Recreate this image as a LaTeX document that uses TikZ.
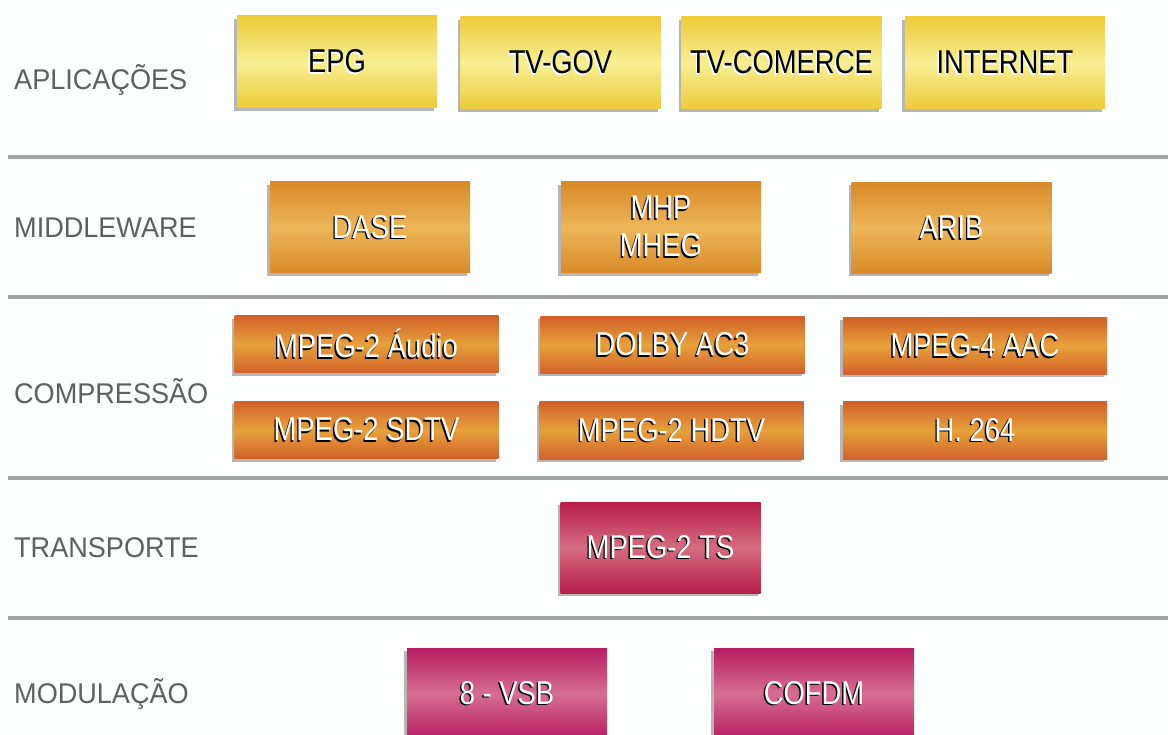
\documentclass[tikz,border=0pt]{standalone}
\usepackage{fontspec}
\setmainfont{Liberation Sans}
\newfontfamily\boxfont[FakeStretch=0.83]{Liberation Sans}
\newfontfamily\labfont[FakeStretch=0.95]{Liberation Sans}
\usetikzlibrary{shadows}
\definecolor{bgc}{HTML}{FDFEFE}
\definecolor{linec}{HTML}{A3A3A3}
\definecolor{labc}{HTML}{5F5F5F}
\definecolor{yelA}{HTML}{EECB38}
\definecolor{yelB}{HTML}{F6EF93}
\definecolor{oraA}{HTML}{D98A28}
\definecolor{oraB}{HTML}{ECB658}
\definecolor{cmpA}{HTML}{D3602A}
\definecolor{cmpB}{HTML}{E6A23A}
\definecolor{redA}{HTML}{B81E48}
\definecolor{redB}{HTML}{D56C80}
\definecolor{magA}{HTML}{B61D62}
\definecolor{magB}{HTML}{D66E92}
\newcommand{\wtxt}[1]{\leavevmode\rlap{\kern-1.4pt\raisebox{-1.4pt}{\color{black}#1}}{\color{white}#1}}
\newcommand{\btxt}[1]{\leavevmode\rlap{\kern-1.4pt\raisebox{-1.4pt}{\color{white}#1}}{\color{black}#1}}
\tikzset{
  layerbox/.style={rectangle, inner sep=0pt, font={\boxfont\fontsize{33}{38}\selectfont},
    drop shadow={shadow xshift=-3pt, shadow yshift=-3pt, opacity=0.4, fill=black!70}},
  yelbox/.style={layerbox, minimum width=200pt, minimum height=92pt, top color=yelA, bottom color=yelA, middle color=yelB},
  orabox/.style={layerbox, minimum width=200pt, minimum height=91pt, top color=oraA, bottom color=oraA, middle color=oraB},
  cmpbox/.style={layerbox, minimum width=264pt, minimum height=57pt, top color=cmpA, bottom color=cmpA, middle color=cmpB},
  redbox/.style={layerbox, minimum width=200pt, minimum height=91pt, top color=redA, bottom color=redA, middle color=redB},
  magbox/.style={layerbox, minimum width=200pt, minimum height=91pt, top color=magA, bottom color=magA, middle color=magB},
  layerlabel/.style={anchor=west, inner sep=0pt, text=labc, font={\labfont\fontsize{28.5}{30}\selectfont}},
  sepline/.style={draw=linec, line width=4pt}
}
\begin{document}
\begin{tikzpicture}[x=1pt, y=-1pt]
\clip (0,0) rectangle (1168,735);
\useasboundingbox (0,0) rectangle (1168,735);
\fill[bgc] (0,0) rectangle (1168,735);

% separator lines
\coordinate (l1a) at (8,157); \coordinate (l1b) at (1168,157);
\coordinate (l2a) at (8,297); \coordinate (l2b) at (1168,297);
\coordinate (l3a) at (8,478); \coordinate (l3b) at (1168,478);
\coordinate (l4a) at (8,618); \coordinate (l4b) at (1168,618);
\draw[sepline] (l1a) -- (l1b);
\draw[sepline] (l2a) -- (l2b);
\draw[sepline] (l3a) -- (l3b);
\draw[sepline] (l4a) -- (l4b);

% layer labels
\node[layerlabel] (lapl) at (14,80) {APLICAÇÕES};
\node[layerlabel] (lmid) at (14,228) {MIDDLEWARE};
\node[layerlabel] (lcmp) at (14,391) {COMPRESSÃO};
\node[layerlabel] (ltra) at (14,548) {TRANSPORTE};
\node[layerlabel] (lmod) at (14,694) {MODULAÇÃO};

% applications
\node[yelbox] (epg) at (337,62) {\btxt{EPG}};
\node[yelbox] (tvgov) at (560.5,63) {\btxt{TV-GOV}};
\node[yelbox] (tvcom) at (781.5,63) {\btxt{TV-COMERCE}};
\node[yelbox] (inet) at (1005,63) {\btxt{INTERNET}};

% middleware
\node[orabox] (dase) at (370,227.5) {\wtxt{DASE}};
\node[orabox, align=center] (mhp) at (661,227.5) {\wtxt{MHP}\\\wtxt{MHEG}};
\node[orabox] (arib) at (951.5,228) {\wtxt{ARIB}};

% compression
\node[cmpbox] (aud) at (366.5,344.5) {\wtxt{MPEG-2 Áudio}};
\node[cmpbox] (dolby) at (672.5,345) {\wtxt{DOLBY AC3}};
\node[cmpbox] (aac) at (975,346) {\wtxt{MPEG-4 AAC}};
\node[cmpbox] (sdtv) at (366.5,430) {\wtxt{MPEG-2 SDTV}};
\node[cmpbox] (hdtv) at (671.5,430.5) {\wtxt{MPEG-2 HDTV}};
\node[cmpbox] (h264) at (975,430.5) {\wtxt{H. 264}};

% transport
\node[redbox] (ts) at (660.5,547.5) {\wtxt{MPEG-2 TS}};

% modulation
\node[magbox] (vsb) at (507,693.5) {\wtxt{8 - VSB}};
\node[magbox] (cofdm) at (814,693.5) {\wtxt{COFDM}};
\end{tikzpicture}
\end{document}
